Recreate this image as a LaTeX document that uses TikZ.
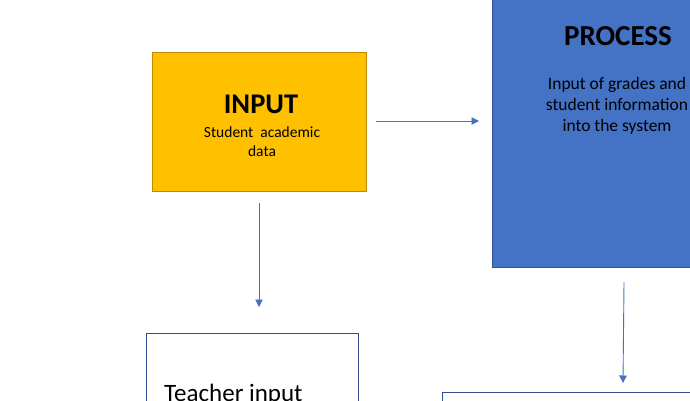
\documentclass[tikz,border=0pt]{standalone}
\usepackage{fontspec}
\setmainfont{Carlito}
\usetikzlibrary{arrows.meta}
\definecolor{gold}{HTML}{FFC000}
\definecolor{goldline}{HTML}{BC8C00}
\definecolor{blu}{HTML}{4472C4}
\definecolor{bluline}{HTML}{2F528F}
\tikzset{
  box/.style={draw, line width=0.8pt, inner sep=0pt},
  conn/.style={draw=blu, line width=0.9pt, -{Triangle[width=7.5pt,length=7.5pt]}},
}
\begin{document}
\begin{tikzpicture}[x=1pt,y=-1pt]
\useasboundingbox (0,0) rectangle (690,401);
\clip (0,0) rectangle (690,401);
% boxes
\draw[box, fill=gold, draw=goldline] (152,52) rectangle (366,191);
\node (inbox) [minimum width=214pt, minimum height=139pt] at (259,121.5) {};
\draw[box, fill=blu, draw=bluline] (492,-20) rectangle (745,267);
\node (procbox) [minimum width=253pt, minimum height=287pt] at (618.5,123.5) {};
\draw[box, fill=white, draw=bluline] (146,333) rectangle (358,460);
\node (teachbox) [minimum width=212pt, minimum height=127pt] at (252,396.5) {};
\draw[box, fill=white, draw=bluline] (442,392) rectangle (745,460);
\node (outbox) [minimum width=303pt, minimum height=68pt] at (593.5,426) {};
% texts
\node (intitle) [font=\fontsize{28.5}{30}\selectfont\bfseries] at (261,104) {INPUT};
\node (intext) [font=\fontsize{15.5}{19}\selectfont, align=center] at (262,142) {Student\ \ academic\\data};
\node (proctitle) [font=\fontsize{29}{30}\selectfont\bfseries] at (618,36) {PROCESS};
\node (proctext) [font=\fontsize{17.5}{21}\selectfont, align=center] at (617,106) {Input of grades and\\student information\\into the system};
\node (teachtext) [font=\fontsize{25}{28}\selectfont, anchor=base west, inner sep=0pt] at (164,401) {Teacher input};
% connectors
\coordinate (a1) at (376,121); \coordinate (a2) at (479,121);
\coordinate (b1) at (259,203); \coordinate (b2) at (259,307);
\coordinate (c1) at (624,282); \coordinate (c2) at (623,383);
\draw[conn] (a1) -- (a2);
\draw[conn] (b1) -- (b2);
\draw[conn] (c1) -- (c2);
\end{tikzpicture}
\end{document}
